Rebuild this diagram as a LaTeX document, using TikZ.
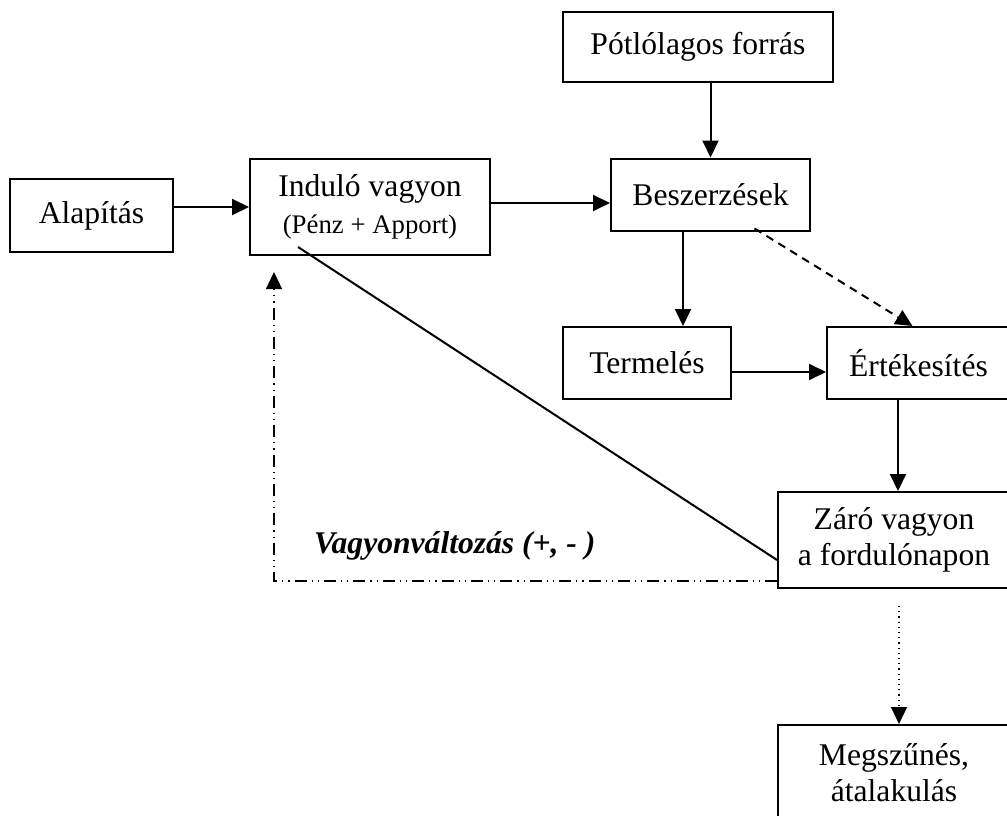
\documentclass[tikz,border=0pt]{standalone}
\usepackage{fontspec}
\setmainfont{Liberation Serif}
\usetikzlibrary{arrows.meta}
\tikzset{
  doboz/.style={draw, line width=1pt, inner sep=0pt, align=center,
    font=\fontsize{15.8}{18}\selectfont},
  nyil/.style={line width=1pt, -{Triangle[length=8.5pt,width=8pt]}},
}
\begin{document}
\begin{tikzpicture}[x=0.5pt,y=-0.5pt]
    % keret
    \useasboundingbox (0,0) rectangle (1007,815);
    % dobozok
    \node[doboz, minimum width=135pt, minimum height=35pt] (forras) at (698,47) {Pótlólagos forrás};
    \node[doboz, minimum width=81.5pt, minimum height=36.5pt] (alap) at (91.5,215.5) {Alapítás};
    \node[doboz, minimum width=120pt, minimum height=48pt] (indulo) at (370,207)
        {Induló vagyon\\[0.5pt]{\fontsize{13.4}{16}\selectfont(Pénz + Apport)}};
    \node[doboz, minimum width=99.5pt, minimum height=36pt] (besz) at (710.5,194.5) {Beszerzések};
    \node[doboz, minimum width=84pt, minimum height=36pt] (term) at (647,363) {Termelés};
    \node[doboz, minimum width=91.5pt, minimum height=36pt] (ertek) at (918.5,363) {Értékesítés};
    \node[doboz, minimum width=116pt, minimum height=48pt] (zaro) at (894,540) {Záró vagyon\\a fordulónapon};
    \node[doboz, minimum width=116pt, minimum height=48pt] (megsz) at (894,773) {Megszűnés,\\átalakulás};
    \node[anchor=base west, font=\fontsize{15.8}{18}\selectfont\bfseries\itshape] (valt) at (307,553)
        {Vagyonváltozás (+, - )};
\begin{scope}[nyil]
    \draw (alap.east |- indulo.west) -- (indulo.west);
    \draw ([yshift=2pt]indulo.east) -- ([yshift=2pt]indulo.east -| besz.west);
    \draw (forras.south -| besz.north) -- (besz.north);
    \draw ([xshift=-13.75pt]besz.south) -- ([xshift=-13.75pt]besz.south |- term.north);
    \draw[dash pattern=on 4pt off 3pt] ([xshift=22pt,yshift=-17pt]besz.center) -- ([xshift=-3pt]ertek.north);
    \draw ([yshift=-4.5pt]term.east) -- ([yshift=-4.5pt]term.east -| ertek.west);
    \draw ([xshift=2pt]zaro.north |- ertek.south) -- ([xshift=2pt]zaro.north);
    \draw[line width=0.6pt, dotted] ([xshift=2.5pt,yshift=-8.5pt]zaro.south) -- ([xshift=2.5pt]megsz.north);
    \draw[line width=0.6pt, dash pattern=on 6pt off 2.5pt on 0.6pt off 2.5pt on 0.6pt off 2.5pt]
        ([yshift=-20.5pt]zaro.west) -| ([xshift=12.5pt,yshift=-8pt]indulo.south west);
\end{scope}
    \draw[line width=1pt] ([xshift=-36pt,yshift=-20pt]indulo.center) -- ([yshift=-10pt]zaro.west);
\end{tikzpicture}
\end{document}
